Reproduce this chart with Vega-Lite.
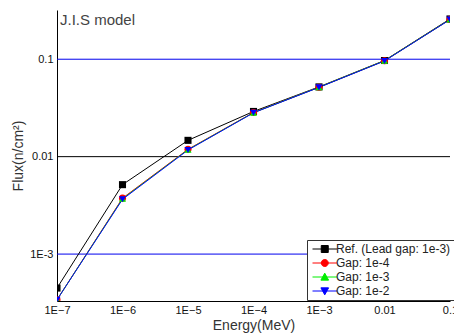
{
  "$schema": "https://vega.github.io/schema/vega-lite/v6.json",
  "width": 393,
  "height": 291,
  "autosize": {"type": "none"},
  "padding": {"left": 57, "top": 10, "right": 4, "bottom": 35},
  "background": "white",
  "config": {
    "view": {"stroke": null},
    "font": "Liberation Sans"
  },
  "datasets": {
    "flux": [
      {"series": "Ref. (Lead gap: 1e-3)", "energy": 1e-7, "flux": 0.000448},
      {"series": "Ref. (Lead gap: 1e-3)", "energy": 1e-6, "flux": 0.00516},
      {"series": "Ref. (Lead gap: 1e-3)", "energy": 1e-5, "flux": 0.0147},
      {"series": "Ref. (Lead gap: 1e-3)", "energy": 1e-4, "flux": 0.0291},
      {"series": "Ref. (Lead gap: 1e-3)", "energy": 1e-3, "flux": 0.052},
      {"series": "Ref. (Lead gap: 1e-3)", "energy": 0.01, "flux": 0.097},
      {"series": "Ref. (Lead gap: 1e-3)", "energy": 0.1, "flux": 0.259},
      {"series": "Gap: 1e-4", "energy": 1e-7, "flux": 0.00034},
      {"series": "Gap: 1e-4", "energy": 1e-6, "flux": 0.00375},
      {"series": "Gap: 1e-4", "energy": 1e-5, "flux": 0.0119},
      {"series": "Gap: 1e-4", "energy": 1e-4, "flux": 0.0284},
      {"series": "Gap: 1e-4", "energy": 1e-3, "flux": 0.0516},
      {"series": "Gap: 1e-4", "energy": 0.01, "flux": 0.0965},
      {"series": "Gap: 1e-4", "energy": 0.1, "flux": 0.256},
      {"series": "Gap: 1e-3", "energy": 1e-7, "flux": 0.00034},
      {"series": "Gap: 1e-3", "energy": 1e-6, "flux": 0.0037},
      {"series": "Gap: 1e-3", "energy": 1e-5, "flux": 0.0118},
      {"series": "Gap: 1e-3", "energy": 1e-4, "flux": 0.0283},
      {"series": "Gap: 1e-3", "energy": 1e-3, "flux": 0.0516},
      {"series": "Gap: 1e-3", "energy": 0.01, "flux": 0.0965},
      {"series": "Gap: 1e-3", "energy": 0.1, "flux": 0.256},
      {"series": "Gap: 1e-2", "energy": 1e-7, "flux": 0.00034},
      {"series": "Gap: 1e-2", "energy": 1e-6, "flux": 0.00365},
      {"series": "Gap: 1e-2", "energy": 1e-5, "flux": 0.0117},
      {"series": "Gap: 1e-2", "energy": 1e-4, "flux": 0.0282},
      {"series": "Gap: 1e-2", "energy": 1e-3, "flux": 0.0514},
      {"series": "Gap: 1e-2", "energy": 0.01, "flux": 0.096},
      {"series": "Gap: 1e-2", "energy": 0.1, "flux": 0.255}
    ],
    "grid": [
      {"level": 0.1, "kind": "blue"},
      {"level": 0.01, "kind": "black"},
      {"level": 0.001, "kind": "blue"}
    ],
    "label": [
      {"text": "J.I.S model", "energy": 1e-7, "flux": 0.32}
    ]
  },
  "data": {"name": "flux"},
  "encoding": {
    "x": {"field": "energy", "type": "quantitative",
      "scale": {"type": "log", "domain": [1e-7, 0.1], "nice": false},
      "axis": {"title": "Energy(MeV)", "values": [1e-7, 1e-6, 1e-5, 1e-4, 1e-3, 0.01, 0.1],
        "labelExpr": "datum.value < 0.005 ? '1E' + format(log(datum.value)/LN10, 'd') : (datum.value < 0.05 ? '0.01' : '0.1')",
        "grid": false, "ticks": false, "domainColor": "black", "domainWidth": 1,
        "labelFontSize": 11, "labelColor": "#111111", "labelPadding": 3, "labelFlush": false, "labelOverlap": false,
        "titleFontSize": 14, "titleFontWeight": "normal", "titleColor": "#333333", "titlePadding": 3}},
    "y": {"field": "flux", "type": "quantitative",
      "scale": {"type": "log", "domain": [0.00033, 0.32], "nice": false},
      "axis": {"title": "Flux(n/cm²)", "values": [0.001, 0.01, 0.1],
        "labelExpr": "datum.value < 0.005 ? '1E-3' : (datum.value < 0.05 ? '0.01' : '0.1')",
        "grid": false,
        "ticks": false, "domainColor": "black", "domainWidth": 1,
        "labelFontSize": 11, "labelColor": "#111111", "labelPadding": 4,
        "titleFontSize": 14, "titleFontWeight": "normal", "titleColor": "#333333", "titlePadding": 4}}
  },
  "layer": [
    {"data": {"name": "grid"}, "transform": [{"filter": "datum.kind === 'blue'"}],
      "mark": {"type": "rule", "color": "#0000ee", "strokeWidth": 1},
      "encoding": {"y": {"field": "level", "type": "quantitative"}, "x": {"value": 0}, "x2": {"value": 393}}},
    {"data": {"name": "grid"}, "transform": [{"filter": "datum.kind === 'black'"}],
      "mark": {"type": "rule", "color": "#000000", "strokeWidth": 1},
      "encoding": {"y": {"field": "level", "type": "quantitative"}, "x": {"value": 0}, "x2": {"value": 393}}},
    {"data": {"name": "label"},
      "mark": {"type": "text", "align": "left", "baseline": "top", "dx": 3, "dy": 3, "fontSize": 15, "color": "#444444"},
      "encoding": {"text": {"field": "text"}}},
    {"mark": {"type": "line", "strokeWidth": 1, "clip": true},
      "encoding": {"color": {"field": "series", "type": "nominal",
        "sort": ["Ref. (Lead gap: 1e-3)", "Gap: 1e-4", "Gap: 1e-3", "Gap: 1e-2"],
        "scale": {"domain": ["Ref. (Lead gap: 1e-3)", "Gap: 1e-4", "Gap: 1e-3", "Gap: 1e-2"], "range": ["#000000", "#ff0000", "#00ee00", "#0000ff"]},
        "legend": {"orient": "none", "legendX": 250, "legendY": 230, "title": null,
          "fillColor": "white", "strokeColor": "#333333", "padding": 3, "cornerRadius": 0,
          "labelFontSize": 12, "labelColor": "#222222", "rowPadding": 2, "symbolSize": 49, "symbolStrokeWidth": 1, "labelOffset": 14,
          "encode": {"symbols": {"update": {
            "shape": {"signal": "datum.value === 'Gap: 1e-4' ? 'M-1,0H6M1.5,0A1,1 0 1,0 3.5,0A1,1 0 1,0 1.5,0Z' : datum.value === 'Gap: 1e-3' ? 'M-1,0H6M1.4,0.9L3.6,0.9L2.5,-1.1Z' : datum.value === 'Gap: 1e-2' ? 'M-1,0H6M1.4,-0.9L3.6,-0.9L2.5,1.1Z' : 'M-1,0H6M1.5,-1H3.5V1H1.5Z'"},
            "size": {"value": 49},
            "fill": {"signal": "scale('color', datum.value)"},
            "fillOpacity": {"value": 1},
            "stroke": {"signal": "scale('color', datum.value)"},
            "strokeWidth": {"value": 1}
          }}}}}}},
    {"transform": [{"filter": "datum.series === 'Ref. (Lead gap: 1e-3)'"}],
      "mark": {"type": "point", "filled": true, "size": 50, "opacity": 1, "clip": true, "shape": "square", "color": "#000000"}},
    {"transform": [{"filter": "datum.series === 'Gap: 1e-4'"}],
      "mark": {"type": "point", "filled": true, "size": 50, "opacity": 1, "clip": true, "shape": "circle", "color": "#ff0000"}},
    {"transform": [{"filter": "datum.series === 'Gap: 1e-3'"}],
      "mark": {"type": "point", "filled": true, "size": 50, "opacity": 1, "clip": true, "shape": "triangle-up", "color": "#00ee00"}},
    {"transform": [{"filter": "datum.series === 'Gap: 1e-2'"}],
      "mark": {"type": "point", "filled": true, "size": 50, "opacity": 1, "clip": true, "shape": "triangle-down", "color": "#0000ff"}}
  ]
}
